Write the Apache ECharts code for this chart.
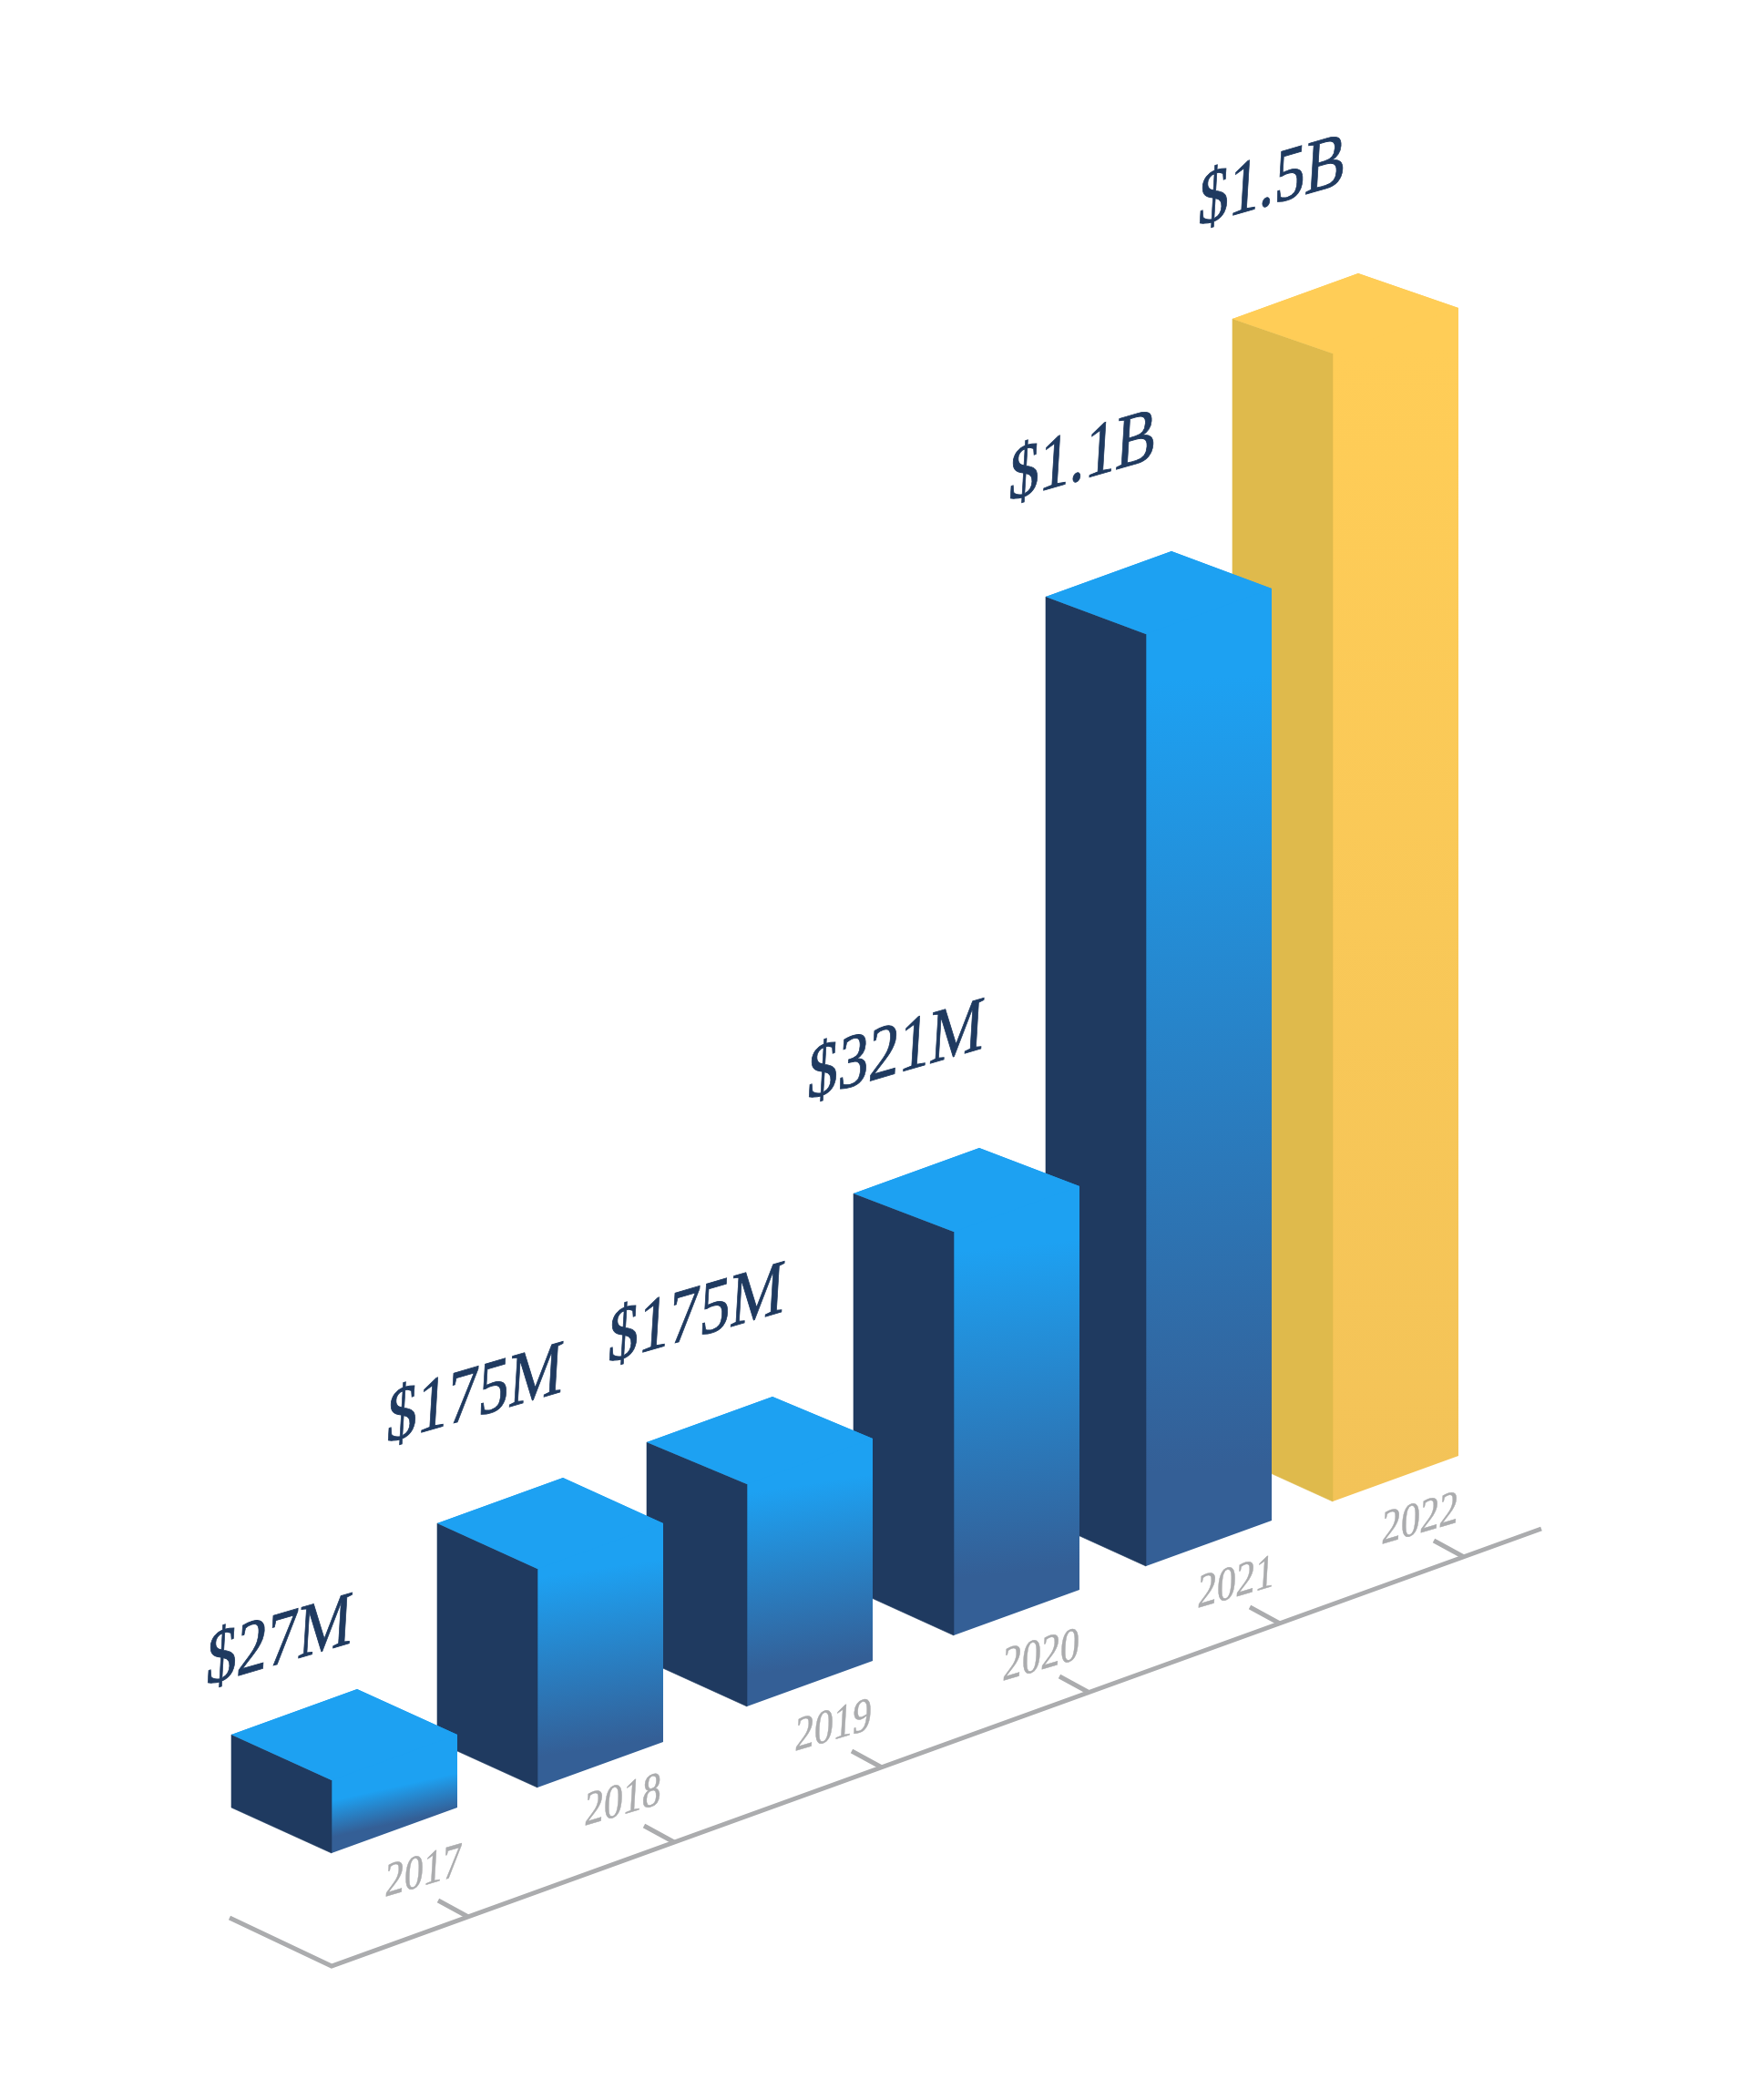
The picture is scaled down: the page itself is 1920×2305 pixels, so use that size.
<!DOCTYPE html>
<html>
<head>
<meta charset="utf-8">
<style>html,body{margin:0;padding:0;background:#fff}#chart{width:1920px;height:2305px}</style>
<script src="https://cdn.jsdelivr.net/npm/echarts@6/dist/echarts.min.js"></script>
</head>
<body>
<div id="chart"></div>
<script>
// ---- Data (x unit = 100 scale units, y unit = 10 scale units) ----
const categories = ['2017', '2018', '2019', '2020', '2021', '2022'];
const valueLabels = ['$27M', '$175M', '$175M', '$321M', '$1.1B', '$1.5B'];
const barHeights = [8.0, 24.0, 24.4, 44.3, 102.3, 126.0];
const barSlots = [3.64, 5.90, 8.20, 10.47, 12.58, 14.63];
const floorLevels = [27.1, 34.3, 43.2, 51.0, 58.6, 65.7];
const topTilts = [5.0, 5.0, 4.6, 4.2, 4.1, 3.8];
const shadeStarts = [0.28, 0.04, 0.04, 0.05, 0.05, 0];
const shadeEnds = [0.78, 0.86, 0.86, 0.86, 0.9, 1];
const shadeSlants = [0.22, 0.15, 0.15, 0.1, 0.05, 0.05];
const valueLabelSlots = [2.25, 4.23, 6.66, 8.85, 11.06, 13.14];
const valueLabelLevels = [45.2, 71.8, 80.6, 109.5, 175.2, 205.4];
const tickSlots = [5.14, 7.40, 9.68, 11.96, 14.05, 16.07];
const tickLevels = [20.1, 28.3, 36.5, 44.7, 52.3, 59.6];
const yearLabelSlots = [4.22, 6.41, 8.72, 11.00, 13.14, 15.16];
const yearLabelLevels = [22.1, 29.9, 38.1, 45.8, 53.8, 60.8];
const axisSlots = [2.52, 3.64, 16.92];
const axisLevels = [20.0, 14.7, 62.7];

// ---- Styling / projection ----
const LEFT_W = 1.10, RIGHT_W = 1.38, DEPTH = 5.0, TICK_DX = 0.33, TICK_DY = 1.8;
const BLUE = {top: '#1DA1F2', side: '#1F3A60', from: '#1DA1F2', to: '#345F96'};
const GOLD = {top: '#FFCD57', side: '#DFBA4C', from: '#FFCD57', to: '#F3C358'};
const NAVY = '#1F3A60', GREY = '#ABACAE';
const SERIF = '"Liberation Serif", serif';
const SLOPE = 0.37, TEXT_STRETCH = 1.27;

function shearedText(text, pt, size, fill, z2, weight) {
  return {
    type: 'text', x: pt[0], y: pt[1], z2: z2,
    scaleX: 1, scaleY: TEXT_STRETCH,
    skewX: -Math.atan(0.06), skewY: Math.atan(SLOPE / TEXT_STRETCH),
    style: {text: text, x: 0, y: -0.8 * size, fill: fill, stroke: fill, lineWidth: weight,
            font: size + 'px ' + SERIF, align: 'left', verticalAlign: 'top'}
  };
}

function renderBar(params, api) {
  const i = params.dataIndex;
  const s = api.value(0), floor = api.value(1), h = api.value(2), tilt = api.value(3);
  const pal = i === categories.length - 1 ? GOLD : BLUE;
  const top = floor + h;
  const frontB = api.coord([s, floor]);
  const frontT = api.coord([s, top]);
  const leftB = api.coord([s - LEFT_W, floor + DEPTH]);
  const leftT = api.coord([s - LEFT_W, top + tilt]);
  const rightB = api.coord([s + RIGHT_W, floor + DEPTH]);
  const rightT = api.coord([s + RIGHT_W, top + DEPTH]);
  const backT = api.coord([s - LEFT_W + RIGHT_W, top + tilt + DEPTH]);
  // colour bands lean by shadeSlant across the face
  const slant = api.value(6);
  const len = Math.hypot(1, slant);
  const nx = slant / len, ny = 1 / len;
  const proj = (frontB[1] - frontT[1]) * ny;
  const grad = {type: 'linear', global: true,
    x: frontT[0], y: frontT[1], x2: frontT[0] + nx * proj, y2: frontT[1] + ny * proj,
    colorStops: [
      {offset: api.value(4), color: pal.from},
      {offset: api.value(5), color: pal.to}
    ]};
  const z = 10 + (categories.length - i) * 3;
  return {
    type: 'group',
    children: [
      // the gradient face also runs under the top face, so no pale seam shows at their join
      {type: 'polygon', z2: z, shape: {points: [leftT, backT, rightT, rightB, frontB, frontT]},
       style: {fill: grad}},
      {type: 'polygon', z2: z + 1, shape: {points: [leftT, frontT, frontB, leftB]},
       style: {fill: pal.side, stroke: pal.side, lineWidth: 0.6}},
      {type: 'polygon', z2: z + 2, shape: {points: [leftT, backT, rightT, frontT]},
       style: {fill: pal.top}}
    ]
  };
}

function renderValueLabel(params, api) {
  const pt = api.coord([api.value(0), api.value(1)]);
  return shearedText(valueLabels[params.dataIndex], pt, 67, NAVY, 100, 0.7);
}
function renderYearLabel(params, api) {
  const pt = api.coord([api.value(0), api.value(1)]);
  return shearedText(categories[params.dataIndex], pt, 42, GREY, 100, 0.4);
}
function renderTick(params, api) {
  const a = api.coord([api.value(0), api.value(1)]);
  const b = api.coord([api.value(0) - TICK_DX, api.value(1) + TICK_DY]);
  return {type: 'line', z2: 5, shape: {x1: a[0], y1: a[1], x2: b[0], y2: b[1]},
          style: {stroke: GREY, lineWidth: 5, fill: null}};
}
function renderAxis(params, api) {
  if (params.dataIndex !== 0) return null;
  const pts = axisSlots.map((s, k) => api.coord([s, axisLevels[k]]));
  return {type: 'polyline', z2: 5, shape: {points: pts},
          style: {stroke: GREY, lineWidth: 5, fill: null, lineJoin: 'miter'}};
}

const chart = echarts.init(document.getElementById('chart'), null, {renderer: 'canvas'});
const common = {type: 'custom', clip: false, silent: true, animation: false};
chart.setOption({
  animation: false,
  backgroundColor: '#ffffff',
  grid: {left: 0, right: 0, top: 0, bottom: 0, containLabel: false},
  xAxis: {type: 'value', min: 0, max: 19.2, show: false},
  yAxis: {type: 'value', min: 0, max: 230.5, show: false},
  tooltip: {show: false},
  series: [
    Object.assign({}, common, {name: 'axis', renderItem: renderAxis,
      encode: {x: 0, y: 1}, data: axisSlots.map((s, i) => [s, axisLevels[i]])}),
    Object.assign({}, common, {name: 'ticks', renderItem: renderTick,
      encode: {x: 0, y: 1}, data: tickSlots.map((s, i) => [s, tickLevels[i]])}),
    Object.assign({}, common, {name: 'bars', renderItem: renderBar,
      encode: {x: 0, y: 1},
      data: categories.map((c, i) => [barSlots[i], floorLevels[i], barHeights[i], topTilts[i], shadeStarts[i], shadeEnds[i], shadeSlants[i]])}),
    Object.assign({}, common, {name: 'values', renderItem: renderValueLabel,
      encode: {x: 0, y: 1}, data: valueLabelSlots.map((s, i) => [s, valueLabelLevels[i]])}),
    Object.assign({}, common, {name: 'years', renderItem: renderYearLabel,
      encode: {x: 0, y: 1}, data: yearLabelSlots.map((s, i) => [s, yearLabelLevels[i]])})
  ]
});
</script>
</body>
</html>
